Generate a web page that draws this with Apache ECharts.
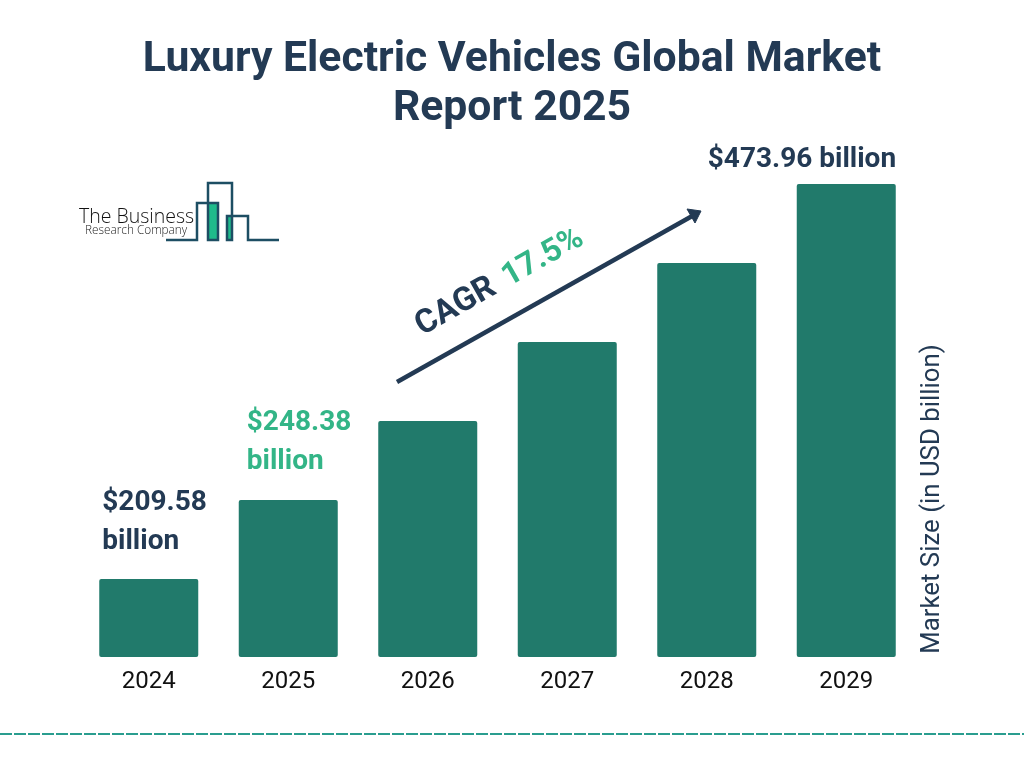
<!DOCTYPE html>
<html>
<head>
<meta charset="utf-8">
<style>
html, body { margin: 0; padding: 0; background: #fff; }
#main { width: 1024px; height: 768px; }
</style>
<script src="https://cdn.jsdelivr.net/npm/echarts@6/dist/echarts.min.js"></script>
</head>
<body>
<div id="main"></div>
<script>
var years = ["2024", "2025", "2026", "2027", "2028", "2029"];
// bars are drawn as even steps in the picture, not to the printed values
var barHeights = [78, 157, 236, 315, 394, 473];
var barLabels = ["$209.58\nbillion", "$248.38\nbillion", "", "", "", "$473.96 billion"];

var dark = "#233a54";
var green = "#33b587";
var barColor = "#217a6b";
var logoColor = "#1d4e63";

// where each printed label sits relative to its bar
var labelPos = [[3, -96], [8, -97], null, null, null, [-89, -44]];
var labelColor = [dark, green, dark, dark, dark, dark];

var barData = [];
for (var i = 0; i < years.length; i++) {
    var item = { value: barHeights[i] };
    if (barLabels[i]) {
        item.label = {
            show: true,
            formatter: barLabels[i],
            position: labelPos[i],
            align: "left",
            verticalAlign: "top",
            color: labelColor[i],
            fontFamily: "Roboto",
            fontWeight: "bold",
            fontSize: 28,
            lineHeight: 39
        };
    }
    barData.push(item);
}

var myChart = echarts.init(document.getElementById("main"));

var logoPath = [[166, 240], [197, 240], [197, 203], [218, 203], [218, 240], [208, 240], [208, 183],
    [232, 183], [232, 240], [227, 240], [227, 216], [248, 216], [248, 240], [279, 240]];

var option = {
    backgroundColor: "#fff",
    animation: false,
    title: {
        text: "Luxury Electric Vehicles Global Market\nReport 2025",
        left: 507,
        top: 31,
        textAlign: "center",
        textStyle: {
            color: dark,
            fontFamily: "Roboto",
            fontWeight: "bold",
            fontSize: 42.7,
            lineHeight: 49
        }
    },
    grid: { left: 79, right: 108, top: 184, bottom: 111 },
    xAxis: {
        type: "category",
        data: years,
        axisLine: { show: false },
        axisTick: { show: false },
        axisLabel: { color: "#111", fontFamily: "Roboto", fontSize: 24, margin: 13 }
    },
    yAxis: { type: "value", min: 0, max: 473, show: false },
    series: [{
        type: "bar",
        data: barData,
        barWidth: 99,
        itemStyle: { color: barColor, borderRadius: 2 }
    }],
    graphic: [
        // y axis title
        {
            type: "text", x: 933, y: 499, rotation: Math.PI / 2,
            style: {
                text: "Market Size (in USD billion)", fill: dark, fontFamily: "Roboto",
                fontSize: 25.8, align: "center", verticalAlign: "middle"
            }
        },
        // CAGR arrow
        {
            type: "line",
            shape: { x1: 397, y1: 382, x2: 694, y2: 215 },
            style: { stroke: dark, lineWidth: 4.5 }
        },
        {
            type: "polygon",
            shape: { points: [[701, 211], [687, 209], [695, 223]] },
            style: { fill: dark, stroke: dark, lineWidth: 1, lineJoin: "round" }
        },
        {
            type: "text", x: 456, y: 307, rotation: 29.5 * Math.PI / 180,
            style: {
                text: "CAGR", fill: dark, fontFamily: "Roboto", fontWeight: "bold",
                fontSize: 33, align: "center", verticalAlign: "middle"
            }
        },
        {
            type: "text", x: 543, y: 258, rotation: 29.5 * Math.PI / 180,
            style: {
                text: "17.5%", fill: green, fontFamily: "Roboto", fontWeight: "bold",
                fontSize: 32, align: "center", verticalAlign: "middle"
            }
        },
        // logo
        { type: "rect", shape: { x: 208, y: 203, width: 10, height: 37 }, style: { fill: "#1fbb8b" } },
        { type: "rect", shape: { x: 227, y: 216, width: 5, height: 24 }, style: { fill: "#1fbb8b" } },
        {
            type: "polyline",
            shape: { points: logoPath },
            style: { stroke: logoColor, lineWidth: 2.5, fill: null }
        },
        {
            type: "text", x: 79, y: 217,
            style: {
                text: "The Business", fill: "#111", fontFamily: "Open Sans", fontWeight: 300, fontSize: 19.5,
                align: "left", verticalAlign: "middle"
            }
        },
        {
            type: "text", x: 85, y: 231,
            style: {
                text: "Research Company", fill: "#222", fontFamily: "Open Sans", fontWeight: 300, fontSize: 11.8,
                align: "left", verticalAlign: "middle"
            }
        },
        // footer rule
        {
            type: "line",
            shape: { x1: 0, y1: 734, x2: 1024, y2: 734 },
            style: { stroke: "#2a9d8f", lineWidth: 2, lineDash: [12, 2] }
        }
    ]
};
myChart.setOption(option);
</script>
</body>
</html>
